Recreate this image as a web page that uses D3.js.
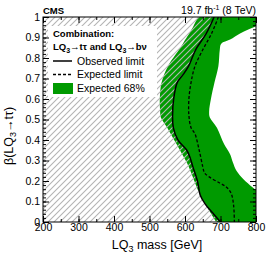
<!DOCTYPE html>
<html>
<head>
<meta charset="utf-8">
<script src="https://cdn.jsdelivr.net/npm/d3@7"></script>
<style>
  body { margin: 0; background: #fff; }
  text { font-family: "Liberation Sans", Arial, Helvetica, sans-serif; }
</style>
</head>
<body>
<script>
// observed limit: beta vs LQ3 mass
var obsBeta = [1, 0.92, 0.84, 0.76, 0.72, 0.68, 0.6, 0.52, 0.46, 0.4, 0.35, 0.31, 0.27, 0.2, 0.13, 0.09, 0.05, 0];
var obsMass = [682, 660, 630, 610, 595, 578, 568, 565, 567, 580, 605, 615, 622, 635, 643, 656, 675, 700];

// expected limit
var expBeta = [1, 0.92, 0.84, 0.76, 0.68, 0.6, 0.52, 0.46, 0.43, 0.35, 0.27, 0.24, 0.22, 0.19, 0.17, 0.14, 0.08, 0];
var expMass = [694, 675, 650, 628, 617, 611, 611, 617, 628, 640, 650, 655, 668, 698, 717, 730, 737, 739];

// expected 68% band
var bandBeta = [1, 0.96, 0.94, 0.92, 0.89, 0.87, 0.84, 0.76, 0.68, 0.6, 0.54, 0.51, 0.46, 0.38, 0.33, 0.29, 0.25, 0.21, 0.17, 0.15, 0.13, 0.05, 0];
var bandLow  = [637, 625, 619, 612, 601, 594, 583, 552, 534, 529, 530, 532, 550, 576, 592, 605, 615, 624, 633, 638, 643, 670, 688];
var bandHigh = [830, 805, 780, 755, 727, 702, 698, 694, 683, 673, 668, 670, 690, 710, 727, 735, 745, 764, 790, 805, 830, 830, 830];

var xTicks = [200, 300, 400, 500, 600, 700, 800];
var yTicks = [0, 0.1, 0.2, 0.3, 0.4, 0.5, 0.6, 0.7, 0.8, 0.9, 1];

var W = 266, H = 256;
var L = 43, R = 256, T = 17, B = 222;

var svg = d3.select("body").append("svg").attr("width", W).attr("height", H);

var x = d3.scaleLinear().domain([200, 800]).range([L, R]);
var y = d3.scaleLinear().domain([0, 1]).range([B, T]);

var defs = svg.append("defs");
defs.append("clipPath").attr("id", "plotclip")
    .append("rect").attr("x", L).attr("y", T).attr("width", R - L).attr("height", B - T);

var pat = defs.append("pattern").attr("id", "hatch")
    .attr("patternUnits", "userSpaceOnUse")
    .attr("width", 6).attr("height", 6);
pat.append("path")
    .attr("d", "M-1,1 l2,-2 M0,6 l6,-6 M5,7 l2,-2")
    .attr("stroke", "#b4b4b4")
    .attr("stroke-width", 1.1);

var plot = svg.append("g").attr("clip-path", "url(#plotclip)");

var obsData = obsBeta.map(function (b, i) { return { b: b, m: obsMass[i] }; });
var expData = expBeta.map(function (b, i) { return { b: b, m: expMass[i] }; });
var bandData = bandBeta.map(function (b, i) { return { b: b, lo: bandLow[i], hi: bandHigh[i] }; });

var curve = d3.curveCatmullRom.alpha(0.5);

// green band
var bandArea = d3.area()
    .y(function (d) { return y(d.b); })
    .x0(function (d) { return x(d.lo); })
    .x1(function (d) { return x(d.hi); })
    .curve(curve);
plot.append("path").attr("d", bandArea(bandData)).attr("fill", "#009a00");

// hatched excluded region
var hatchArea = d3.area()
    .y(function (d) { return y(d.b); })
    .x0(function () { return x(200); })
    .x1(function (d) { return x(d.m); })
    .curve(curve);
plot.append("path").attr("d", hatchArea(obsData)).attr("fill", "url(#hatch)");

// legend box
svg.append("rect").attr("x", 48).attr("y", 26).attr("width", 109).attr("height", 71).attr("fill", "#fff");

var limitLine = d3.line()
    .y(function (d) { return y(d.b); })
    .x(function (d) { return x(d.m); })
    .curve(curve);

plot.append("path").attr("d", limitLine(expData))
    .attr("fill", "none").attr("stroke", "#000")
    .attr("stroke-width", 1.3).attr("stroke-dasharray", "3,2");
plot.append("path").attr("d", limitLine(obsData))
    .attr("fill", "none").attr("stroke", "#000").attr("stroke-width", 1.5);

// axes
function styleAxis(g) {
    g.select(".domain").remove();
    g.selectAll("line").attr("stroke", "#000");
    g.selectAll("text").style("font-size", "10.5px").attr("fill", "#000");
}

var xMinor = d3.range(200, 801, 50);
var yMinor = d3.range(0, 1.0001, 0.02);

svg.append("g").attr("transform", "translate(0," + B + ")")
    .call(d3.axisBottom(x).tickValues(xTicks).tickSize(-6).tickPadding(2).tickFormat(d3.format("d")))
    .call(styleAxis);
svg.append("g").attr("transform", "translate(0," + B + ")")
    .call(d3.axisBottom(x).tickValues(xMinor).tickSize(-3).tickFormat(""))
    .call(styleAxis);
svg.append("g").attr("transform", "translate(0," + T + ")")
    .call(d3.axisTop(x).tickValues(xTicks).tickSize(-6).tickFormat(""))
    .call(styleAxis);
svg.append("g").attr("transform", "translate(0," + T + ")")
    .call(d3.axisTop(x).tickValues(xMinor).tickSize(-3).tickFormat(""))
    .call(styleAxis);

svg.append("g").attr("transform", "translate(" + L + ",0)")
    .call(d3.axisLeft(y).tickValues(yTicks).tickSize(-6).tickPadding(3)
        .tickFormat(function (d) { return d === 0 || d === 1 ? d3.format("d")(d) : d3.format(".1f")(d); }))
    .call(styleAxis);
svg.append("g").attr("transform", "translate(" + L + ",0)")
    .call(d3.axisLeft(y).tickValues(yMinor).tickSize(-3).tickFormat(""))
    .call(styleAxis);
svg.append("g").attr("transform", "translate(" + R + ",0)")
    .call(d3.axisRight(y).tickValues(yTicks).tickSize(-6).tickFormat(""))
    .call(styleAxis);
svg.append("g").attr("transform", "translate(" + R + ",0)")
    .call(d3.axisRight(y).tickValues(yMinor).tickSize(-3).tickFormat(""))
    .call(styleAxis);

svg.append("rect").attr("x", L).attr("y", T).attr("width", R - L).attr("height", B - T)
    .attr("fill", "none").attr("stroke", "#000").attr("stroke-width", 1);

// axis titles
var xt = svg.append("text").attr("x", 157).attr("y", 249).attr("text-anchor", "middle")
    .style("font-size", "12.5px");
xt.append("tspan").text("LQ");
xt.append("tspan").text("3").attr("dy", 3).style("font-size", "9px");
xt.append("tspan").text(" mass [GeV]").attr("dy", -3);

var yt = svg.append("text").attr("transform", "translate(13,136) rotate(-90)")
    .attr("text-anchor", "middle").style("font-size", "12.5px");
yt.append("tspan").text("\u03b2(LQ");
yt.append("tspan").text("3").attr("dy", 3).style("font-size", "9px");
yt.append("tspan").text("\u2192t\u03c4)").attr("dy", -3);

// header
svg.append("text").attr("x", L).attr("y", 14).text("CMS")
    .style("font-size", "9.5px").style("font-weight", "bold");
var lumi = svg.append("text").attr("x", R).attr("y", 14).attr("text-anchor", "end")
    .style("font-size", "10.5px");
lumi.append("tspan").text("19.7 fb");
lumi.append("tspan").text("-1").attr("dy", -4).style("font-size", "7px");
lumi.append("tspan").text(" (8 TeV)").attr("dy", 4);

// legend
svg.append("text").attr("x", 53).attr("y", 37).text("Combination:")
    .style("font-size", "9.5px").style("font-weight", "bold");
var lt = svg.append("text").attr("x", 53).attr("y", 50)
    .style("font-size", "9.5px").style("font-weight", "bold");
lt.append("tspan").text("LQ");
lt.append("tspan").text("3").attr("dy", 2.5).style("font-size", "7px");
lt.append("tspan").text("\u2192t\u03c4 and LQ").attr("dy", -2.5);
lt.append("tspan").text("3").attr("dy", 2.5).style("font-size", "7px");
lt.append("tspan").text("\u2192b\u03bd").attr("dy", -2.5);

var legendItems = [
    { label: "Observed limit", kind: "obs", cy: 61 },
    { label: "Expected limit", kind: "exp", cy: 74.5 },
    { label: "Expected 68%", kind: "band", cy: 88.5 }
];
legendItems.forEach(function (d) {
    if (d.kind === "band") {
        svg.append("rect").attr("x", 53).attr("y", d.cy - 5.5).attr("width", 20).attr("height", 11)
            .attr("fill", "#009a00");
    } else {
        svg.append("line").attr("x1", 53).attr("x2", 72).attr("y1", d.cy).attr("y2", d.cy)
            .attr("stroke", "#000").attr("stroke-width", d.kind === "obs" ? 1.5 : 1.3)
            .attr("stroke-dasharray", d.kind === "exp" ? "3,2" : null);
    }
    svg.append("text").attr("x", 77).attr("y", d.cy + 3.8).text(d.label).style("font-size", "10.5px");
});
</script>
</body>
</html>
